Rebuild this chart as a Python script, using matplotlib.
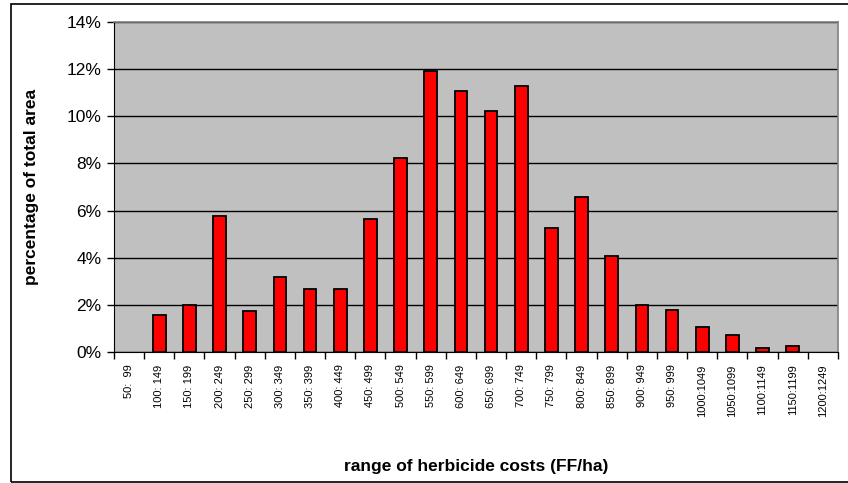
import numpy as np
import matplotlib
matplotlib.use("Agg")
from matplotlib import pyplot as plt
from matplotlib.patches import Rectangle

# cost ranges (FF/ha) and share of total area (%)
starts = [50, 100, 150, 200, 250, 300, 350, 400, 450, 500, 550, 600,
          650, 700, 750, 800, 850, 900, 950, 1000, 1050, 1100, 1150, 1200]
ranges = []
for s in starts:
    if s < 1000:
        ranges.append("%d: %d" % (s, s + 49) if s >= 100 else "%d:  %d" % (s, s + 49))
    else:
        ranges.append("%d:%d" % (s, s + 49))
area_pct = [0.0, 1.59, 2.01, 5.79, 1.72, 3.18, 2.68, 2.68, 5.65, 8.22, 11.93, 11.06,
            10.21, 11.28, 5.27, 6.59, 4.06, 2.0, 1.79, 1.07, 0.72, 0.18, 0.27, 0.0]

plt.rcParams['font.family'] = ['Liberation Sans', 'DejaVu Sans']

fig = plt.figure(figsize=(8.48, 4.83), dpi=100)
ax = fig.add_axes([0.1344, 0.2712, 0.8538, 0.6833])

x = np.arange(len(ranges))
# empty classes get no outline at all
edge_w = [1.3 if v > 0 else 0 for v in area_pct]
ax.bar(x, area_pct, width=0.42, color='#FF0000', edgecolor='black', linewidth=edge_w, zorder=3)

ax.set_facecolor('#C0C0C0')
ax.set_xlim(-0.5, len(ranges) - 0.5)
ax.set_ylim(0, 14)
ax.set_yticks(np.arange(0, 15, 2))
ax.set_yticklabels(["%d%%" % v for v in range(0, 15, 2)], fontsize=12.5)
ax.yaxis.grid(True, color='black', linewidth=1.0, zorder=1)

ax.set_xticks(x)
ax.set_xticklabels(ranges, rotation=90, fontsize=8, va='top')
ax.tick_params(axis='x', which='major', length=0, pad=9)
ax.set_xticks(np.arange(-0.5, len(ranges), 1), minor=True)
ax.tick_params(axis='x', which='minor', length=5, width=1, direction='out')
ax.tick_params(axis='y', length=5, width=1, direction='out', pad=4)

for side in ['top', 'right']:
    ax.spines[side].set_color('#808080')
    ax.spines[side].set_linewidth(1.2)
ax.spines['left'].set_color('black')
ax.spines['bottom'].set_color('black')

ax.set_xlabel("range of herbicide costs (FF/ha)", fontsize=12.5, fontweight='bold')
ax.set_ylabel("percentage of total area", fontsize=12.5, fontweight='bold')
ax.xaxis.set_label_coords(0.5, -0.325)
ax.yaxis.set_label_coords(-0.104, 0.5)

# outer chart border
fig.patches.append(Rectangle((11 / 848, 1.5 / 483), 845 / 848, 478 / 483, transform=fig.transFigure,
                             fill=False, edgecolor='black', linewidth=1.2))

fig.savefig("out.png", dpi=100)
